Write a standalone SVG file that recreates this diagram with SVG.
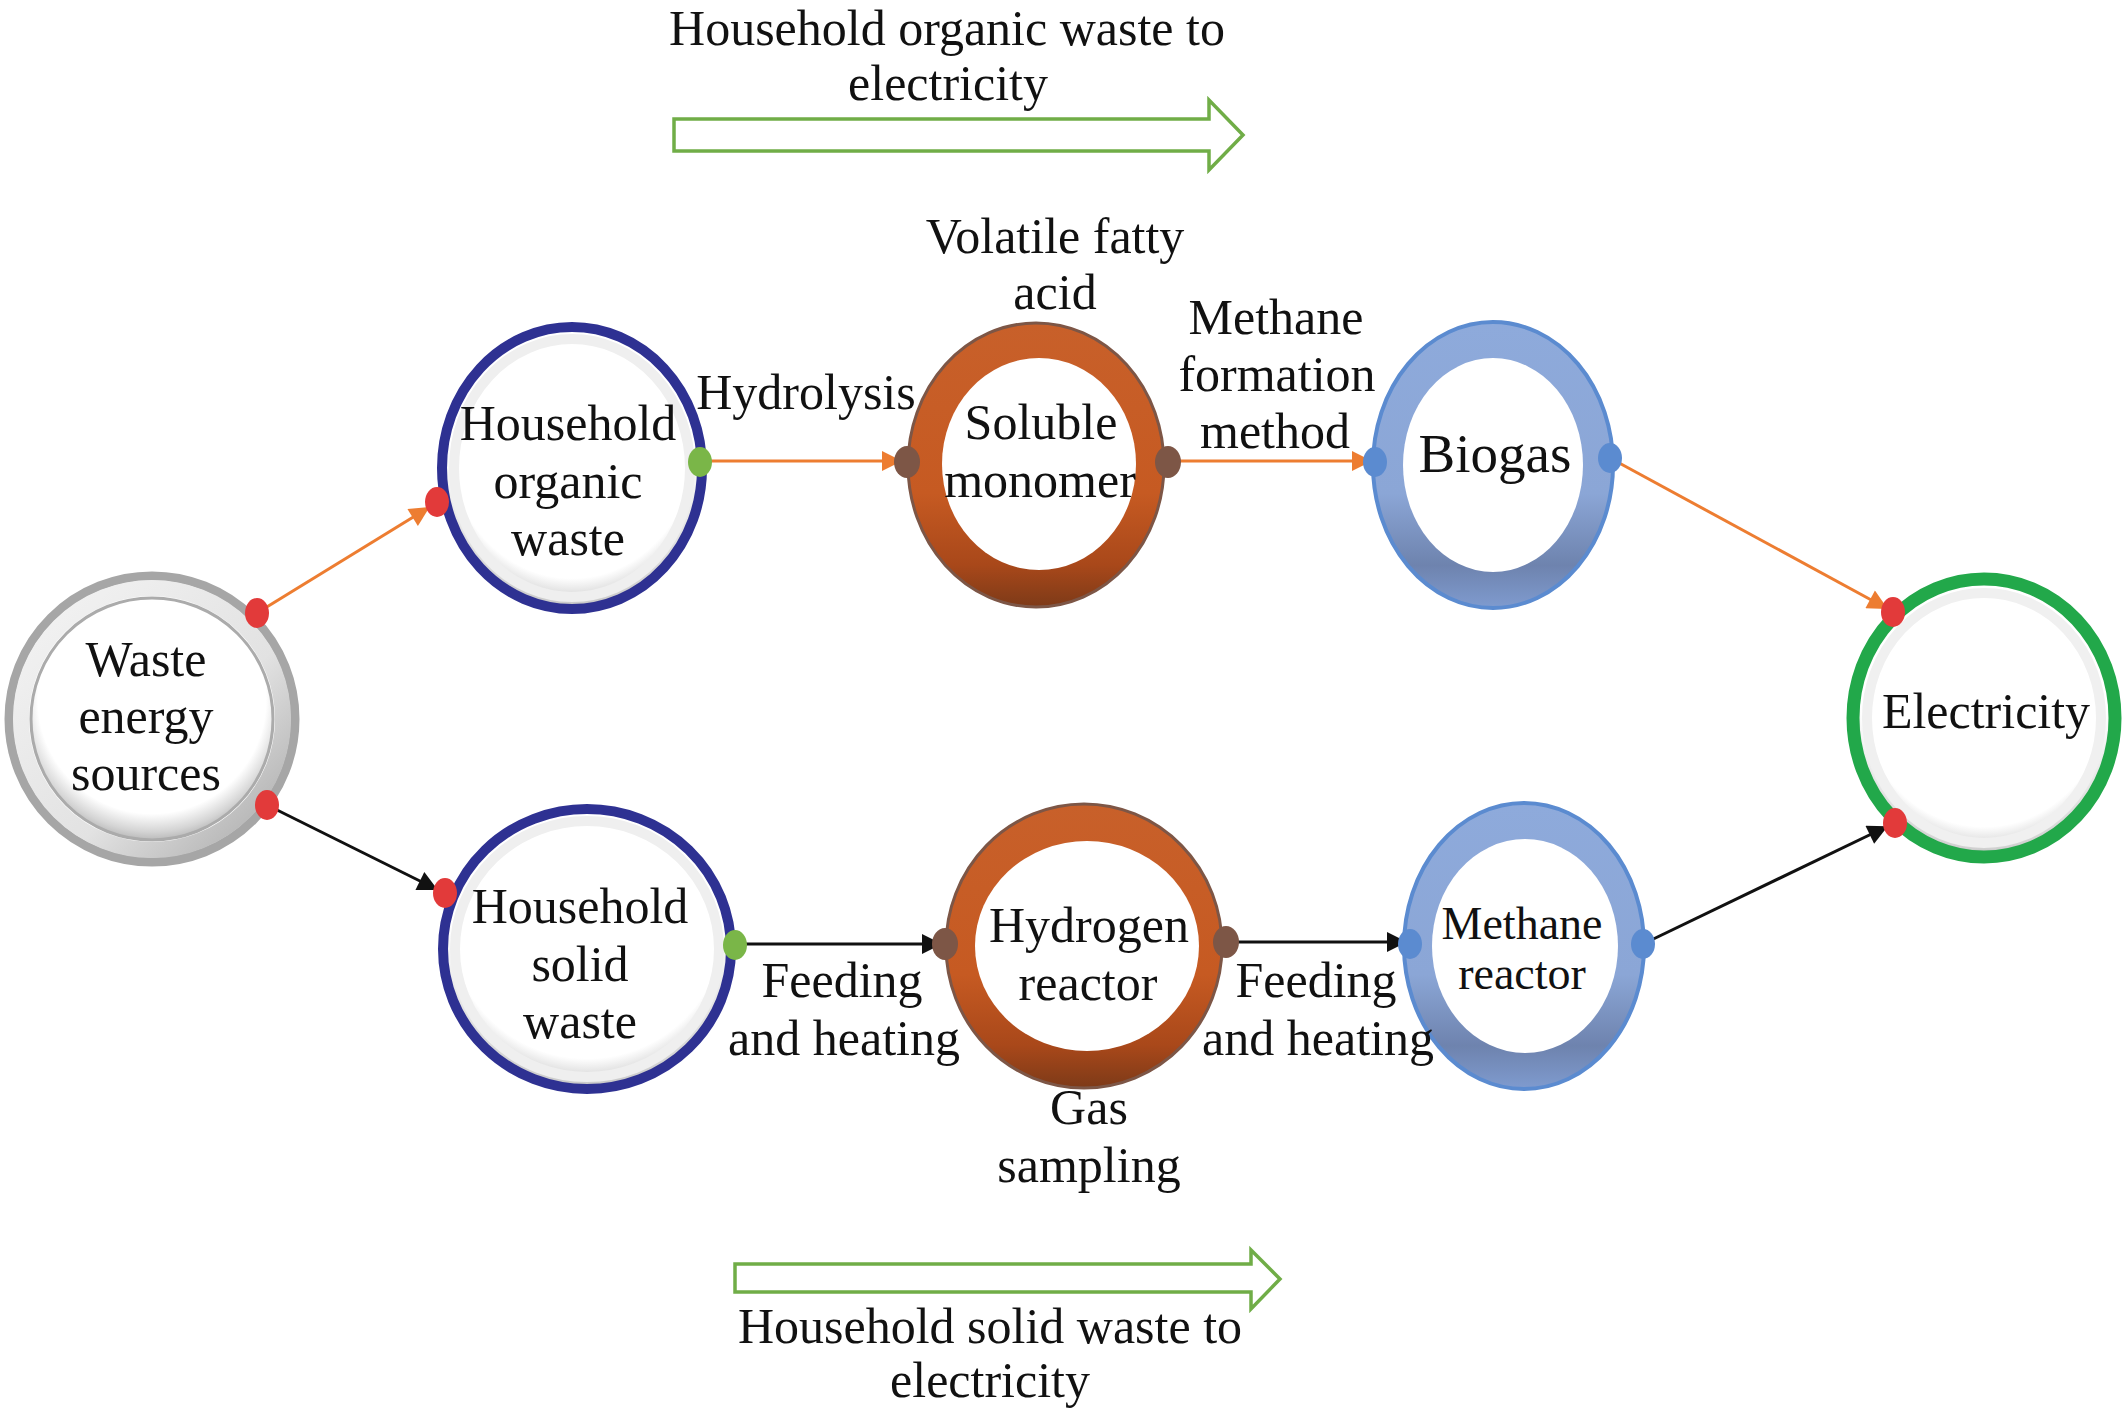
<svg xmlns="http://www.w3.org/2000/svg" width="2128" height="1412" viewBox="0 0 2128 1412">
<style>
text{font-family:"Liberation Serif","Times New Roman",serif;font-size:50px;fill:#111;text-anchor:middle}
.ol{fill:none;stroke:#ED7D31;stroke-width:3}
.bl{fill:none;stroke:#111;stroke-width:3}
.red{fill:#E23A3A}
.grn{fill:#7AB648}
.brn{fill:#7D5646}
.blu{fill:#5B8BD0}
.navy{fill:url(#shade);stroke:#2E3192;stroke-width:10}
.big{fill:none;stroke:#70AD47;stroke-width:3.5}
</style>
<defs>
<radialGradient id="shade" cx="0.5" cy="0.42" r="0.62">
<stop offset="0" stop-color="#fff"/>
<stop offset="0.76" stop-color="#fff"/>
<stop offset="0.88" stop-color="#d4d4d4"/>
<stop offset="1" stop-color="#9c9c9c"/>
</radialGradient>
<linearGradient id="org" x1="0" y1="0" x2="0" y2="1">
<stop offset="0" stop-color="#C8602A"/>
<stop offset="0.6" stop-color="#C65A22"/>
<stop offset="0.85" stop-color="#A9481A"/>
<stop offset="1" stop-color="#7D3A18"/>
</linearGradient>
<linearGradient id="blue" x1="0" y1="0" x2="0" y2="1">
<stop offset="0" stop-color="#8EAADB"/>
<stop offset="0.6" stop-color="#8BA6D6"/>
<stop offset="0.85" stop-color="#6E83AE"/>
<stop offset="1" stop-color="#7F9BCF"/>
</linearGradient>
<linearGradient id="band" x1="0" y1="0" x2="1" y2="1">
<stop offset="0" stop-color="#f4f4f4"/>
<stop offset="0.6" stop-color="#e2e2e2"/>
<stop offset="1" stop-color="#a8a8a8"/>
</linearGradient>
<marker id="ao" viewBox="0 0 10 10" refX="9" refY="5" markerWidth="24" markerHeight="20" markerUnits="userSpaceOnUse" orient="auto"><path d="M0,0 L10,5 L0,10 Z" fill="#ED7D31"/></marker>
<marker id="ab" viewBox="0 0 10 10" refX="9" refY="5" markerWidth="24" markerHeight="20" markerUnits="userSpaceOnUse" orient="auto"><path d="M0,0 L10,5 L0,10 Z" fill="#111"/></marker>
</defs>

<g id="banner-top">
<path class="big" d="M674,119 H1209 V100 L1243,135 L1209,170 V151 H674 Z" fill="#fff"/>
<text x="947" y="45">Household organic waste to</text>
<text x="948" y="100">electricity</text>
</g>
<g id="banner-bottom">
<path class="big" d="M735,1264 H1251 V1250 L1280,1279 L1251,1309 V1292 H735 Z" fill="#fff"/>
<text x="990" y="1343">Household solid waste to</text>
<text x="990" y="1397">electricity</text>
</g>

<g id="connectors">
<line class="ol" x1="257" y1="613" x2="428" y2="508" marker-end="url(#ao)"/>
<line class="bl" x1="267" y1="805" x2="436" y2="889" marker-end="url(#ab)"/>
<line class="ol" x1="700" y1="461" x2="900" y2="461" marker-end="url(#ao)"/>
<line class="ol" x1="1168" y1="461" x2="1370" y2="461" marker-end="url(#ao)"/>
<line class="ol" x1="1610" y1="458" x2="1886" y2="608" marker-end="url(#ao)"/>
<line class="bl" x1="735" y1="944" x2="940" y2="944" marker-end="url(#ab)"/>
<line class="bl" x1="1226" y1="942" x2="1405" y2="942" marker-end="url(#ab)"/>
<line class="bl" x1="1643" y1="944" x2="1886" y2="827" marker-end="url(#ab)"/>
</g>

<g id="node-waste-energy-sources">
<circle cx="152" cy="719" r="143" fill="#fff" stroke="#A6A6A6" stroke-width="9"/>
<circle cx="152" cy="719" r="131" fill="none" stroke="url(#band)" stroke-width="16"/>
<circle cx="152" cy="719" r="121" fill="url(#shade)" stroke="#ABABAB" stroke-width="3"/>
<text x="146" y="676">Waste</text>
<text x="146" y="733">energy</text>
<text x="146" y="790">sources</text>
<ellipse class="red" cx="257" cy="613" rx="12" ry="15"/>
<ellipse class="red" cx="267" cy="805" rx="12" ry="15"/>
</g>

<g id="node-household-organic-waste">
<ellipse class="navy" cx="572" cy="468" rx="130" ry="141"/>
<ellipse cx="572" cy="468" rx="118" ry="129" fill="none" stroke="#efefef" stroke-width="10"/>
<text x="568" y="440">Household</text>
<text x="568" y="498">organic</text>
<text x="568" y="555">waste</text>
<ellipse class="red" cx="437" cy="502" rx="12" ry="15"/>
<ellipse class="grn" cx="700" cy="462" rx="12" ry="15"/>
</g>

<g id="node-household-solid-waste">
<ellipse class="navy" cx="587" cy="949" rx="144" ry="140"/>
<ellipse cx="587" cy="949" rx="132" ry="128" fill="none" stroke="#efefef" stroke-width="10"/>
<text x="580" y="923">Household</text>
<text x="580" y="981">solid</text>
<text x="580" y="1038">waste</text>
<ellipse class="red" cx="445" cy="893" rx="12" ry="15"/>
<ellipse class="grn" cx="735" cy="945" rx="12" ry="15"/>
</g>

<g id="node-soluble-monomer">
<ellipse cx="1036" cy="465" rx="128" ry="142" fill="url(#org)" stroke="#7D5646" stroke-width="3"/>
<ellipse cx="1039" cy="464" rx="97" ry="106" fill="#fff"/>
<text x="1041" y="439">Soluble</text>
<text x="1040" y="497">monomer</text>
<ellipse class="brn" cx="907" cy="462" rx="13" ry="16"/>
<ellipse class="brn" cx="1168" cy="462" rx="13" ry="16"/>
</g>

<g id="node-hydrogen-reactor">
<ellipse cx="1084" cy="946" rx="138" ry="142" fill="url(#org)" stroke="#7D5646" stroke-width="3"/>
<ellipse cx="1087" cy="946" rx="112" ry="105" fill="#fff"/>
<text x="1089" y="942">Hydrogen</text>
<text x="1088" y="1000">reactor</text>
<ellipse class="brn" cx="945" cy="944" rx="13" ry="16"/>
<ellipse class="brn" cx="1226" cy="942" rx="13" ry="16"/>
</g>

<g id="node-biogas">
<ellipse cx="1493" cy="465" rx="120" ry="143" fill="url(#blue)" stroke="#5B8BD0" stroke-width="4"/>
<ellipse cx="1493" cy="465" rx="90" ry="107" fill="#fff"/>
<text x="1495" y="472" style="font-size:55px">Biogas</text>
<ellipse class="blu" cx="1375" cy="462" rx="12" ry="15"/>
<ellipse class="blu" cx="1610" cy="458" rx="12" ry="15"/>
</g>

<g id="node-methane-reactor">
<ellipse cx="1524" cy="946" rx="120" ry="143" fill="url(#blue)" stroke="#5B8BD0" stroke-width="4"/>
<ellipse cx="1525" cy="946" rx="93" ry="107" fill="#fff"/>
<text x="1522" y="939" style="font-size:46px">Methane</text>
<text x="1522" y="989" style="font-size:46px">reactor</text>
<ellipse class="blu" cx="1410" cy="944" rx="12" ry="15"/>
<ellipse class="blu" cx="1643" cy="944" rx="12" ry="15"/>
</g>

<g id="node-electricity">
<ellipse cx="1984" cy="718" rx="131" ry="139" fill="url(#shade)" stroke="#22A84A" stroke-width="13"/>
<ellipse cx="1984" cy="718" rx="117" ry="125" fill="none" stroke="#f0f0f0" stroke-width="10"/>
<text x="1986" y="728">Electricity</text>
<ellipse class="red" cx="1893" cy="612" rx="12" ry="15"/>
<ellipse class="red" cx="1895" cy="823" rx="12" ry="15"/>
</g>

<g id="labels">
<text x="806" y="409">Hydrolysis</text>
<text x="1055" y="253">Volatile fatty</text>
<text x="1055" y="309">acid</text>
<text x="1276" y="334">Methane</text>
<text x="1277" y="391">formation</text>
<text x="1275" y="448">method</text>
<text x="842" y="997">Feeding</text>
<text x="844" y="1055">and heating</text>
<text x="1316" y="997">Feeding</text>
<text x="1318" y="1055">and heating</text>
<text x="1089" y="1124">Gas</text>
<text x="1089" y="1182">sampling</text>
</g>
</svg>
